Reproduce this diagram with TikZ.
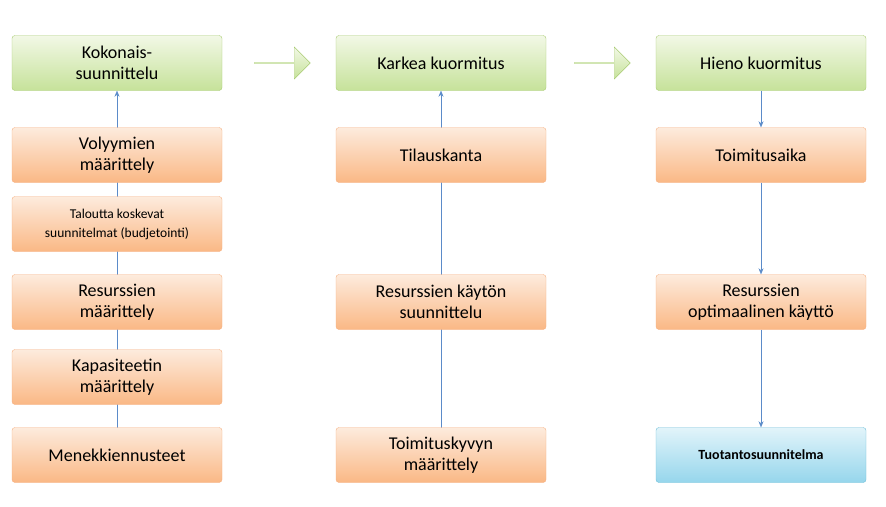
\documentclass[tikz,border=0pt]{standalone}
\usepackage{fontspec}
\setmainfont{Carlito}
\usetikzlibrary{arrows.meta, positioning, shapes.arrows}
\pgfdeclarelayer{background}
\pgfsetlayers{background,main}
\definecolor{orgtop}{HTML}{FDEBDD}
\definecolor{orgbot}{HTML}{FAB885}
\definecolor{orgline}{HTML}{F5B183}
\definecolor{grntop}{HTML}{F2F8E6}
\definecolor{grnbot}{HTML}{C6E29A}
\definecolor{grnline}{HTML}{A9CB73}
\definecolor{blutop}{HTML}{E2F4FA}
\definecolor{blubot}{HTML}{96D6EC}
\definecolor{bluline}{HTML}{6FBFD8}
\definecolor{linkc}{HTML}{5B8BC9}
\tikzset{
    box/.style={draw, rounded corners=3pt, minimum width=210pt, minimum height=55pt,
        align=center, font=\fontsize{18}{21}\selectfont, inner sep=2pt},
    orgbox/.style={box, draw=orgline, top color=orgtop, bottom color=orgbot},
    grnbox/.style={box, draw=grnline, top color=grntop, bottom color=grnbot},
    blubox/.style={box, draw=bluline, top color=blutop, bottom color=blubot},
    link/.style={draw=linkc, -{Stealth[length=6pt, width=5pt]}},
    fatarrow/.style={single arrow, draw=grnline, top color=grntop, bottom color=grnbot,
        minimum width=32pt, minimum height=56pt, single arrow head extend=6pt, inner sep=0pt},
}
\begin{document}
\begin{tikzpicture}[x=1pt, y=-1pt]
    \useasboundingbox (0,0) rectangle (886,506);
    % first column
    \node[grnbox] (kok) at (117,63) {Kokonais-\\suunnittelu};
    \node[orgbox] (vol) at (117,155) {Volyymien\\määrittely};
    \node[orgbox, font=\fontsize{13.5}{19}\selectfont] (tal) at (117,224) {Taloutta koskevat\\suunnitelmat (budjetointi)};
    \node[orgbox] (res1) at (117,302) {Resurssien\\määrittely};
    \node[orgbox] (kap) at (117,377) {Kapasiteetin\\määrittely};
    \node[orgbox] (men) at (117,455) {Menekkiennusteet};
    % second column
    \node[grnbox] (kar) at (441,63) {Karkea kuormitus};
    \node[orgbox] (til) at (441,155) {Tilauskanta};
    \node[orgbox] (res2) at (441,302) {Resurssien käytön\\suunnittelu};
    \node[orgbox] (toi) at (441,455) {Toimituskyvyn\\määrittely};
    % third column
    \node[grnbox] (hie) at (761,63) {Hieno kuormitus};
    \node[orgbox] (aik) at (761,155) {Toimitusaika};
    \node[orgbox] (res3) at (761,302) {Resurssien\\optimaalinen käyttö};
    \node[blubox, font=\fontsize{14}{17}\selectfont\bfseries] (tuo) at (761,455) {Tuotantosuunnitelma};

    \node[fatarrow] (a1) at (282,63) {};
    \node[fatarrow] (a2) at (602,63) {};

    \begin{pgfonlayer}{background}
        \draw[link] (men.center) -- (kok.south);
        \draw[link] (toi.center) -- (kar.south);
    \end{pgfonlayer}
    \draw[link] (hie) -- (aik);
    \draw[link] (aik) -- (res3);
    \draw[link] (res3) -- (tuo);
\end{tikzpicture}
\end{document}
